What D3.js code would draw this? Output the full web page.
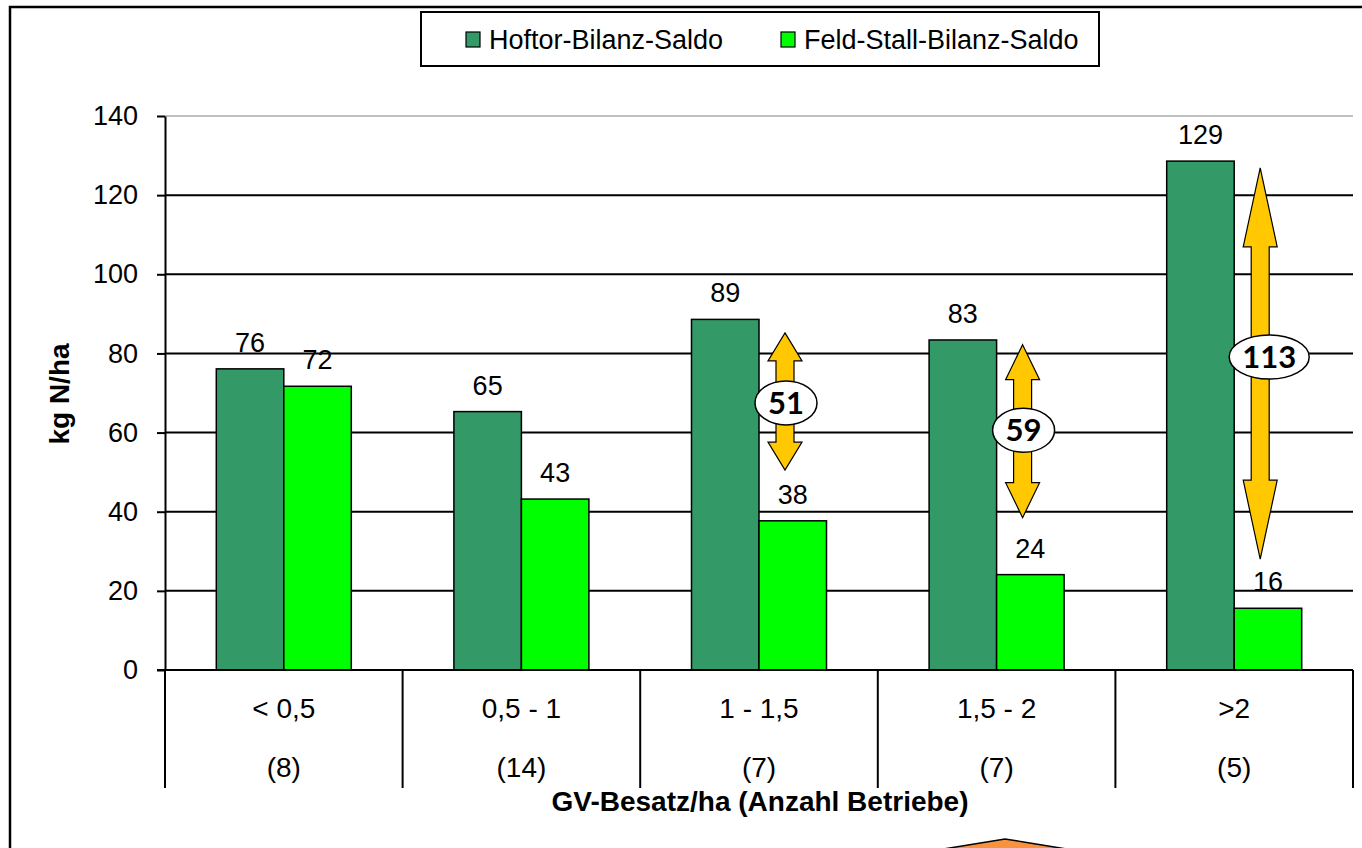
<!DOCTYPE html>
<html>
<head>
<meta charset="utf-8">
<script src="https://d3js.org/d3.v7.min.js"></script>
<style>
body{margin:0;background:#fff;}
svg{display:block;}
text{font-family:"Liberation Sans",Arial,sans-serif;fill:#000;}
</style>
</head>
<body>
<div id="chart"></div>
<script>
// GV-Besatz classes and number of farms
const categories = ["< 0,5", "0,5 - 1", "1 - 1,5", "1,5 - 2", ">2"];
const betriebe = ["(8)", "(14)", "(7)", "(7)", "(5)"];
const seriesNames = ["Hoftor-Bilanz-Saldo", "Feld-Stall-Bilanz-Saldo"];
const hoftor = [76.1, 65.3, 88.6, 83.4, 128.6];
const feldStall = [71.7, 43.2, 37.7, 24.1, 15.6];
const yTicks = [0, 20, 40, 60, 80, 100, 120, 140];

// difference arrows (kg N/ha)
const diffCats = ["1 - 1,5", "1,5 - 2", ">2"];
const diffLabels = [51, 59, 113];
const arrowTop = [85.2, 82.2, 126.9];
const arrowBottom = [50.5, 38.5, 28.0];
const badgeAt = [67.5, 60.6, 79.1];

const W = 1362, H = 848;
const colors = ["#339966", "#00ff00"];

const svg = d3.select("#chart").append("svg")
  .attr("width", W).attr("height", H);

// outer frame (cut off at right and bottom)
svg.append("path")
  .attr("d", `M10,${H + 5} L10,7 L${W + 5},7`)
  .attr("fill", "none").attr("stroke", "#000").attr("stroke-width", 2.5);

const x = d3.scaleBand().domain(categories).range([165, 1353]).padding(0);
const xSub = d3.scaleBand().domain([0, 1]).range([0, x.bandwidth()])
  .paddingInner(0).paddingOuter(0.76);
const y = d3.scaleLinear().domain([0, 140]).range([670, 116]);

// gridlines
svg.append("g").selectAll("line")
  .data(yTicks.filter(d => d > 0))
  .enter().append("line")
    .attr("x1", 165).attr("x2", 1353)
    .attr("y1", d => y(d)).attr("y2", d => y(d))
    .attr("stroke", d => d === 140 ? "#c0c0c0" : "#000")
    .attr("stroke-width", 2);

// bars
const rows = categories.map((c, i) => ({cat: c, vals: [hoftor[i], feldStall[i]]}));
const groups = svg.append("g").selectAll("g")
  .data(rows).enter().append("g")
    .attr("transform", d => `translate(${x(d.cat)},0)`);

groups.selectAll("rect")
  .data(d => d.vals.map((v, k) => ({v, k})))
  .enter().append("rect")
    .attr("x", d => xSub(d.k))
    .attr("y", d => y(d.v))
    .attr("width", xSub.bandwidth())
    .attr("height", d => y(0) - y(d.v))
    .attr("fill", d => colors[d.k])
    .attr("stroke", "#000").attr("stroke-width", 1.5);

groups.selectAll("text.val")
  .data(d => d.vals.map((v, k) => ({v, k})))
  .enter().append("text")
    .attr("class", "val")
    .attr("x", d => xSub(d.k) + xSub.bandwidth() / 2)
    .attr("y", d => y(d.v) - 17)
    .attr("text-anchor", "middle")
    .style("font-size", "27px")
    .text(d => d3.format(".0f")(d.v));

// y axis
const yAxis = svg.append("g")
  .attr("transform", "translate(165,0)")
  .call(d3.axisLeft(y).tickValues(yTicks).tickSize(8).tickPadding(19).tickSizeOuter(0));
yAxis.select(".domain").attr("stroke", "#000").attr("stroke-width", 2);
yAxis.selectAll(".tick line").attr("stroke", "#000").attr("stroke-width", 2);
yAxis.selectAll(".tick text")
  .style("font-size", "27px").style("font-family", "'Liberation Sans',Arial,sans-serif")
  .attr("fill", "#000");

// category axis with separators
svg.append("line")
  .attr("x1", 157).attr("x2", 1353).attr("y1", y(0)).attr("y2", y(0))
  .attr("stroke", "#000").attr("stroke-width", 2);
const bounds = categories.map(c => x(c)).concat([x.range()[1]]);
svg.append("g").selectAll("line")
  .data(bounds).enter().append("line")
    .attr("x1", d => d).attr("x2", d => d)
    .attr("y1", y(0)).attr("y2", 788)
    .attr("stroke", "#000").attr("stroke-width", 2);

const catAxis = svg.append("g").selectAll("g")
  .data(categories).enter().append("g")
    .attr("transform", d => `translate(${x(d) + x.bandwidth() / 2},0)`);
catAxis.append("text")
  .attr("y", 718).attr("text-anchor", "middle").style("font-size", "28px")
  .text(d => d);
catAxis.append("text")
  .attr("y", 777).attr("text-anchor", "middle").style("font-size", "28px")
  .text((d, i) => betriebe[i]);

// axis titles
svg.append("text")
  .attr("x", 760).attr("y", 811).attr("text-anchor", "middle")
  .style("font-size", "28px").style("font-weight", "bold")
  .text("GV-Besatz/ha (Anzahl Betriebe)");
svg.append("text")
  .attr("transform", "translate(69,394) rotate(-90)")
  .attr("text-anchor", "middle")
  .style("font-size", "28px").style("font-weight", "bold")
  .text("kg N/ha");

// difference arrows
function doubleArrow(cx, top, bottom, head) {
  const hw = 17, sw = 9;
  return `M${cx},${top} L${cx + hw},${top + head} L${cx + sw},${top + head}
    L${cx + sw},${bottom - head} L${cx + hw},${bottom - head} L${cx},${bottom}
    L${cx - hw},${bottom - head} L${cx - sw},${bottom - head} L${cx - sw},${top + head}
    L${cx - hw},${top + head} Z`;
}
const diffs = diffCats.map((c, i) => ({
  cat: c, label: diffLabels[i], top: arrowTop[i], bottom: arrowBottom[i], mid: badgeAt[i]
}));
const ann = svg.append("g").selectAll("g")
  .data(diffs).enter().append("g");
const arrowX = d => x(d.cat) + xSub(1) + 26;
ann.append("path")
  .attr("d", d => {
    const len = y(d.bottom) - y(d.top);
    const head = len > 300 ? 79 : (len > 160 ? 35 : 28);
    return doubleArrow(arrowX(d), y(d.top), y(d.bottom), head);
  })
  .attr("fill", "#ffc800").attr("stroke", "#000").attr("stroke-width", 1.2);
ann.append("ellipse")
  .attr("cx", d => arrowX(d) + (d.label > 99 ? 9 : 1))
  .attr("cy", d => y(d.mid))
  .attr("rx", d => d.label > 99 ? 40 : 31)
  .attr("ry", 22)
  .attr("fill", "#fff").attr("stroke", "#000").attr("stroke-width", 1.5);
ann.append("text")
  .attr("x", d => arrowX(d) + (d.label > 99 ? 9 : 1))
  .attr("y", d => y(d.mid) + 11)
  .attr("text-anchor", "middle")
  .style("font-family", "Lato,'Open Sans',sans-serif")
  .style("font-size", "31px").style("font-weight", "bold")
  .text(d => d.label);

// legend
const legend = svg.append("g");
legend.append("rect")
  .attr("x", 421).attr("y", 12).attr("width", 678).attr("height", 54)
  .attr("fill", "#fff").attr("stroke", "#000").attr("stroke-width", 2);
const legX = [466, 781];
const li = legend.selectAll("g.item")
  .data(seriesNames).enter().append("g")
    .attr("transform", (d, i) => `translate(${legX[i]},0)`);
li.append("rect")
  .attr("x", 0).attr("y", 32).attr("width", 14).attr("height", 15)
  .attr("fill", (d, i) => colors[i]).attr("stroke", "#000").attr("stroke-width", 1.2);
li.append("text")
  .attr("x", 23).attr("y", 49).style("font-size", "27px")
  .text(d => d);

// orange shape peeking in at the bottom
svg.append("path")
  .attr("d", `M925,${H + 4} L1005,839 L1085,${H + 4} Z`)
  .attr("fill", "#f7923f").attr("stroke", "#000").attr("stroke-width", 1.5);
</script>
</body>
</html>
